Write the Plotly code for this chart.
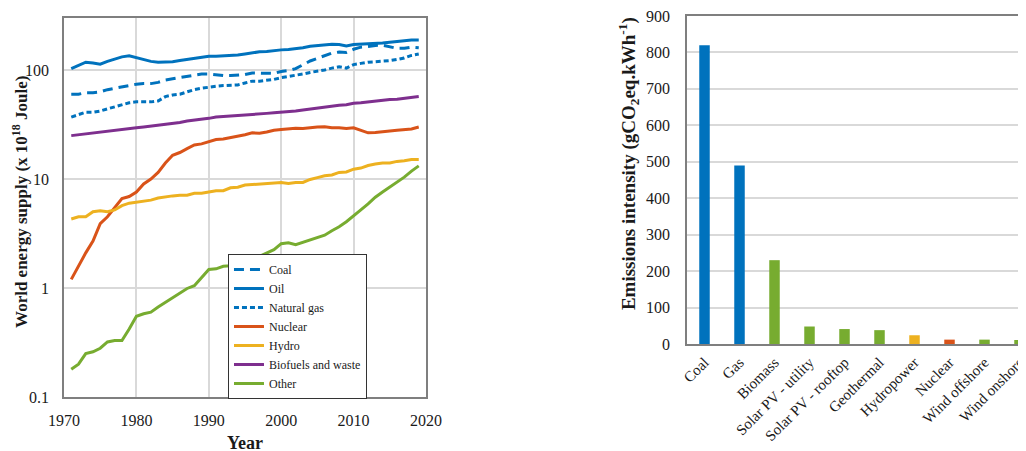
import plotly.graph_objects as go

years = list(range(1971, 2020))

coal = [60, 60, 62, 62, 63, 66, 68, 70, 73, 74,
        75, 75, 77, 81, 83, 85, 88, 90, 92, 92,
        90, 89, 89, 90, 91, 94, 94, 93, 93, 97,
        99, 103, 112, 121, 128, 136, 143, 146, 145, 155,
        162, 164, 168, 169, 164, 158, 158, 162, 160]
oil = [103, 110, 118, 116, 113, 120, 125, 132, 135, 130,
       124, 120, 118, 119, 119, 122, 125, 129, 132, 134,
       134, 135, 135, 137, 140, 144, 147, 148, 151, 153,
       154, 156, 160, 165, 168, 170, 172, 171, 166, 171,
       172, 174, 176, 177, 180, 183, 186, 188, 188]
gas = [37, 39, 41, 41, 42, 44, 46, 48, 50, 51,
       51, 51, 52, 57, 59, 60, 63, 66, 68, 70,
       71, 72, 73, 73, 76, 79, 79, 80, 82, 85,
       87, 89, 92, 95, 97, 100, 104, 107, 104, 112,
       115, 118, 119, 120, 122, 125, 129, 136, 140]
nuclear = [1.2, 1.6, 2.1, 2.7, 3.9, 4.5, 5.5, 6.6, 6.9, 7.6,
           9.0, 10.0, 11.5, 14.0, 16.5, 17.5, 19.0, 20.5, 21.0, 22.0,
           23.0, 23.3, 24.0, 24.5, 25.5, 26.5, 26.3, 27.0, 28.0, 28.5,
           29.0, 29.2, 29.0, 29.7, 30.0, 30.2, 29.5, 29.5, 29.0, 29.5,
           28.0, 26.5, 26.7, 27.3, 27.5, 28.0, 28.3, 28.8, 30.0]
hydro = [4.3, 4.5, 4.5, 5.0, 5.1, 5.0, 5.2, 5.7, 6.0, 6.1,
         6.2, 6.4, 6.7, 6.9, 7.0, 7.1, 7.1, 7.4, 7.4, 7.6,
         7.8, 7.8, 8.3, 8.4, 8.8, 8.9, 9.0, 9.1, 9.1, 9.3,
         9.1, 9.3, 9.3, 9.9, 10.3, 10.7, 10.9, 11.5, 11.6, 12.3,
         12.6, 13.3, 13.7, 14.0, 14.0, 14.5, 14.7, 15.1, 15.1]
biofuels = [25, 25.5, 26, 26.5, 27, 27.5, 28, 28.5, 29, 29.5,
            30, 30.5, 31, 32, 32.5, 33, 34, 34.5, 35, 36,
            37, 37.5, 38, 38.5, 39, 39.5, 40, 40, 40.5, 41,
            41, 42, 43, 44, 45, 46, 47, 47.5, 48, 49.5,
            50, 51, 52, 53, 53.5, 54, 55, 56, 57]
other = [0.18, 0.20, 0.25, 0.26, 0.28, 0.32, 0.33, 0.33, 0.42, 0.55,
         0.58, 0.60, 0.67, 0.74, 0.82, 0.90, 0.99, 1.05, 1.25, 1.48,
         1.50, 1.58, 1.60, 1.68, 1.70, 1.90, 1.95, 2.08, 2.25, 2.55,
         2.60, 2.50, 2.62, 2.78, 2.90, 3.05, 3.35, 3.65, 4.05, 4.55,
         5.2, 5.9, 6.8, 7.6, 8.4, 9.3, 10.4, 11.8, 13.2]

series_names = ["Coal", "Oil", "Natural gas", "Nuclear", "Hydro", "Biofuels and waste", "Other"]

categories = ["Coal", "Gas", "Biomass", "Solar PV - utility", "Solar PV - rooftop",
              "Geothermal", "Hydropower", "Nuclear", "Wind offshore", "Wind onshore"]
emissions = [820, 490, 230, 48, 41, 38, 24, 12, 12, 11]

BLUE = "#0072BD"
ORANGE = "#D95319"
YELLOW = "#EDB120"
PURPLE = "#7E2F8E"
GREEN = "#77AC30"

line_styles = [
    (BLUE, "10px,6px"),
    (BLUE, "solid"),
    (BLUE, "5px,3px"),
    (ORANGE, "solid"),
    (YELLOW, "solid"),
    (PURPLE, "solid"),
    (GREEN, "solid"),
]
bar_colors = [BLUE, BLUE, GREEN, GREEN, GREEN, GREEN, YELLOW, ORANGE, GREEN, GREEN]

FONT = "Liberation Serif"
TXT = "#1a1a1a"
fig = go.Figure()
for name, vals, (col, dash) in zip(series_names, [coal, oil, gas, nuclear, hydro, biofuels, other], line_styles):
    fig.add_trace(go.Scatter(x=years, y=vals, name=name, mode="lines",
                             line=dict(color=col, width=3, dash=dash),
                             xaxis="x", yaxis="y"))

fig.add_trace(go.Bar(x=categories, y=emissions, marker=dict(color=bar_colors, line=dict(width=0)),
                     width=0.3, showlegend=False, xaxis="x2", yaxis="y2"))

grid = "#d9d9d9"
axcol = "#7f7f7f"
tickf = dict(family=FONT, size=16, color=TXT)
fig.update_layout(
    width=1026, height=451,
    margin=dict(l=0, r=0, t=0, b=0),
    paper_bgcolor="white", plot_bgcolor="white",
    font=dict(family=FONT, size=14, color=TXT),
    xaxis=dict(domain=[0.0546, 0.4074], range=[1970, 2020], tickvals=[1970, 1980, 1990, 2000, 2010, 2020],
               showgrid=True, gridcolor=grid, gridwidth=1.5, showline=True, linecolor=axcol, linewidth=1.5,
               mirror=True, ticks="", zeroline=False, tickfont=tickf, ticklabelstandoff=8, automargin=False,
               ticklabeloverflow="allow",
               title=dict(text="<b>Year</b>", font=dict(size=18), standoff=8)),
    yaxis=dict(domain=[0.1375, 0.9778], type="log", range=[-1, 2.477], tickvals=[0.1, 1, 10, 100],
               ticktext=["0.1", "1", "10", "100"],
               showgrid=True, gridcolor=grid, gridwidth=1.5, showline=True, linecolor=axcol, linewidth=1.5,
               mirror=True, ticks="", zeroline=False, tickfont=tickf, ticklabelstandoff=10, automargin=False,
               ticklabeloverflow="allow"),
    xaxis2=dict(domain=[0.6618, 1.0], range=[-0.5, 9.414], anchor="y2", tickangle=-45,
                showgrid=False, showline=True, linecolor=axcol, linewidth=1.5, mirror=True, ticks="",
                tickfont=dict(family=FONT, size=15, color=TXT), ticklabelstandoff=2, automargin=False,
                ticklabeloverflow="allow"),
    yaxis2=dict(domain=[0.255, 0.9823], range=[0, 900], dtick=100, anchor="x2",
                showgrid=True, gridcolor=grid, gridwidth=1.5, showline=True, linecolor=axcol, linewidth=1.5,
                mirror=True, ticks="", zeroline=False, tickfont=tickf, ticklabelstandoff=12, automargin=False,
                ticklabeloverflow="allow"),
    annotations=[
        dict(text="<b>World energy supply (x 10<sup>18</sup> Joule)</b>",
             xref="paper", yref="paper", x=0.0117, y=0.570, textangle=-90,
             xanchor="center", yanchor="middle",
             showarrow=False, font=dict(family=FONT, size=17, color=TXT)),
        dict(text="<b>Emissions intensity (gCO<sub>2</sub>eq.kWh<sup>-1</sup>)</b>",
             xref="paper", yref="paper", x=0.6043, y=0.654, textangle=-90,
             xanchor="center", yanchor="middle",
             showarrow=False, font=dict(family=FONT, size=19, color=TXT)),
    ],
    legend=dict(x=0.2144, y=0.4545, xanchor="left", yanchor="top", bgcolor="white",
                bordercolor="#333333", borderwidth=1, font=dict(size=12), tracegroupgap=0,
                itemwidth=30),
    showlegend=True,
)

fig.write_html("out.html")
